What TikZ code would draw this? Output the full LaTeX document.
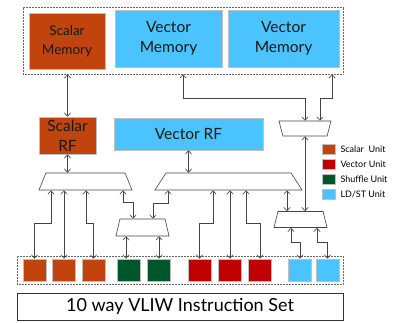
\documentclass[tikz,border=0pt]{standalone}
\usepackage{fontspec}
\setmainfont{Lato}
\usetikzlibrary{arrows.meta,positioning,shapes.geometric}
\definecolor{scalarc}{HTML}{C1440E}
\definecolor{vectorc}{HTML}{C00000}
\definecolor{shufflec}{HTML}{00562B}
\definecolor{ldstc}{HTML}{4BC3FF}
\definecolor{wirec}{HTML}{444444}

\begin{document}
\begin{tikzpicture}[x=1pt,y=-1pt,
		>={Straight Barb[length=3.5pt,width=6.5pt]},
		box/.style={draw=black!25, line width=0.6pt, inner sep=0pt, align=center, text=black!90},
		frame/.style={draw=black!60, densely dotted, line width=0.5pt, inner sep=0pt},
		mux/.style={trapezium, trapezium left angle=85, trapezium right angle=85,
			trapezium stretches=true, draw=wirec, line width=0.6pt, inner sep=1pt, fill=white},
		unitbox/.style={box, minimum width=23pt, minimum height=22pt},
		key/.style={box, minimum width=13pt, minimum height=10pt},
		wire/.style={draw=wirec, line width=0.6pt, <->},
		big/.style={font=\fontsize{15.5}{20}\selectfont}
		]
		\useasboundingbox (0,0) rectangle (406,323);
		
		\node[frame, minimum width=320pt, minimum height=67pt] (memf) at (183,40.5) {};
		\node[box, fill=scalarc, minimum width=76pt, minimum height=56pt,
			font=\fontsize{13.5}{19}\selectfont] (smem) at (67,41) {Scalar\\Memory};
		\node[box, big, fill=ldstc, minimum width=107pt, minimum height=57pt] (vmem1) at (168.5,38.5) {Vector\\Memory};
		\node[box, big, fill=ldstc, minimum width=111pt, minimum height=57pt] (vmem2) at (283.5,38.5) {Vector\\Memory};
		
		\node[box, big, fill=scalarc, minimum width=57pt, minimum height=37pt] (srf) at (67.5,135.5) {Scalar\\RF};
		\node[box, big, fill=ldstc, minimum width=149pt, minimum height=32pt] (vrf) at (188.5,134) {Vector RF};
		
		\node[mux, minimum width=52pt, minimum height=15pt,
			trapezium left angle=95, trapezium right angle=95] (mtr) at (305,128.5) {};
		\node[mux, minimum width=93pt, minimum height=17pt] (ml) at (85.5,181.5) {};
		\node[mux, minimum width=147pt, minimum height=17pt] (mm) at (228.5,181.5) {};
		\node[mux, minimum width=53pt, minimum height=17pt] (ms) at (142.5,227.5) {};
		\node[mux, minimum width=53pt, minimum height=16pt] (mr) at (300.5,219.5) {};
		
		\node[frame, minimum width=326pt, minimum height=28pt] (uf) at (180,270) {};
		\foreach \x/\c [count=\i] in {34.5/scalarc,64/scalarc,93.5/scalarc,129/shufflec,159/shufflec,
			199.5/vectorc,230/vectorc,260/vectorc,300/ldstc,327.5/ldstc}
		\node[unitbox, fill=\c] (u\i) at (\x,270) {};
		
		\node[draw=black!80, line width=0.7pt, minimum width=326pt, minimum height=27pt,
			font=\fontsize{18}{20}\selectfont] (isa) at (180,306.5) {10 way VLIW Instruction Set};
		
		\foreach \c/\t [count=\i] in {scalarc/{Scalar\ \ Unit}, vectorc/{Vector Unit},
			shufflec/{Shuffle Unit}, ldstc/{LD/ST Unit}} {
			\node[key, fill=\c] (k\i) at (328.5,134+15*\i) {};
			\node[right=5pt of k\i, inner sep=0pt, font=\fontsize{9}{10}\selectfont] (kt\i) {\t};
		}
		
		\coordinate (tv1) at ([xshift=14.5pt]vmem1.south);
		\coordinate (tv2) at ([xshift=48.5pt]vmem2.south);
		\coordinate (tl1) at ([xshift=-34.5pt]ml.south);
		\coordinate (tl3) at ([xshift=0.5pt]ml.south);
		\coordinate (tl4) at ([xshift=37.5pt]ml.south);
		\coordinate (tm0) at ([xshift=-60.5pt]mm.south);
		\coordinate (tm1) at ([xshift=-15.5pt]mm.south);
		\coordinate (tm3) at ([xshift=17.5pt]mm.south);
		\coordinate (ts1) at ([xshift=-9.5pt]ms.north);
		\coordinate (ts2) at ([xshift=10.5pt]ms.north);
		\coordinate (ts3) at ([xshift=-16.5pt]ms.south);
		\coordinate (ts4) at ([xshift=16.5pt]ms.south);
		\coordinate (tr0) at ([xshift=-13.5pt]mr.north);
		\coordinate (tr1) at ([xshift=-9.5pt]mr.south);
		\coordinate (tr2) at ([xshift=16.5pt]mr.south);
		
		\draw[wire] (srf.north |- memf.south) -- (srf.north);
		\draw[wire] (tv1 |- memf.south) -- ++(0,24) -| (mtr.north);
		\draw[wire] (tv2 |- memf.south) -- ++(0,24) -| ([xshift=15pt]mtr.north);
		\draw[wire] (mtr.south) -- (mtr.south |- mr.north);
		\draw[wire] (srf.south) -- (srf.south |- ml.north);
		\draw[wire] (vrf.south) -- (vrf.south |- mm.north);
		\draw[wire] (tr0 |- mm.south) -- (tr0);
		
		\draw[wire] (tl1) |- ([yshift=35pt]u1.north) -- (u1.north);
		\draw[wire] (u2.north |- ml.south) -- (u2.north);
		\draw[wire] (tl3) |- ([yshift=35pt]u3.north) -- (u3.north);
		\draw[wire] (tl4) |- ([yshift=16pt]ts1) -- (ts1);
		\draw[wire] (tm0) |- ([yshift=15pt]ts2) -- (ts2);
		\draw[wire] (ts3) -- (ts3 |- u4.north);
		\draw[wire] (ts4) -- (ts4 |- u5.north);
		\draw[wire] (tm1) |- ([yshift=35pt]u6.north) -- (u6.north);
		\draw[wire] (u7.north |- mm.south) -- (u7.north);
		\draw[wire] (tm3) |- ([yshift=35pt]u8.north) -- (u8.north);
		\draw[wire] (tr1) |- ([yshift=16pt]u9.north) -- (u9.north);
		\draw[wire] (tr2) |- ([yshift=16pt]u10.north) -- (u10.north);
		
	\end{tikzpicture}
\end{document}
